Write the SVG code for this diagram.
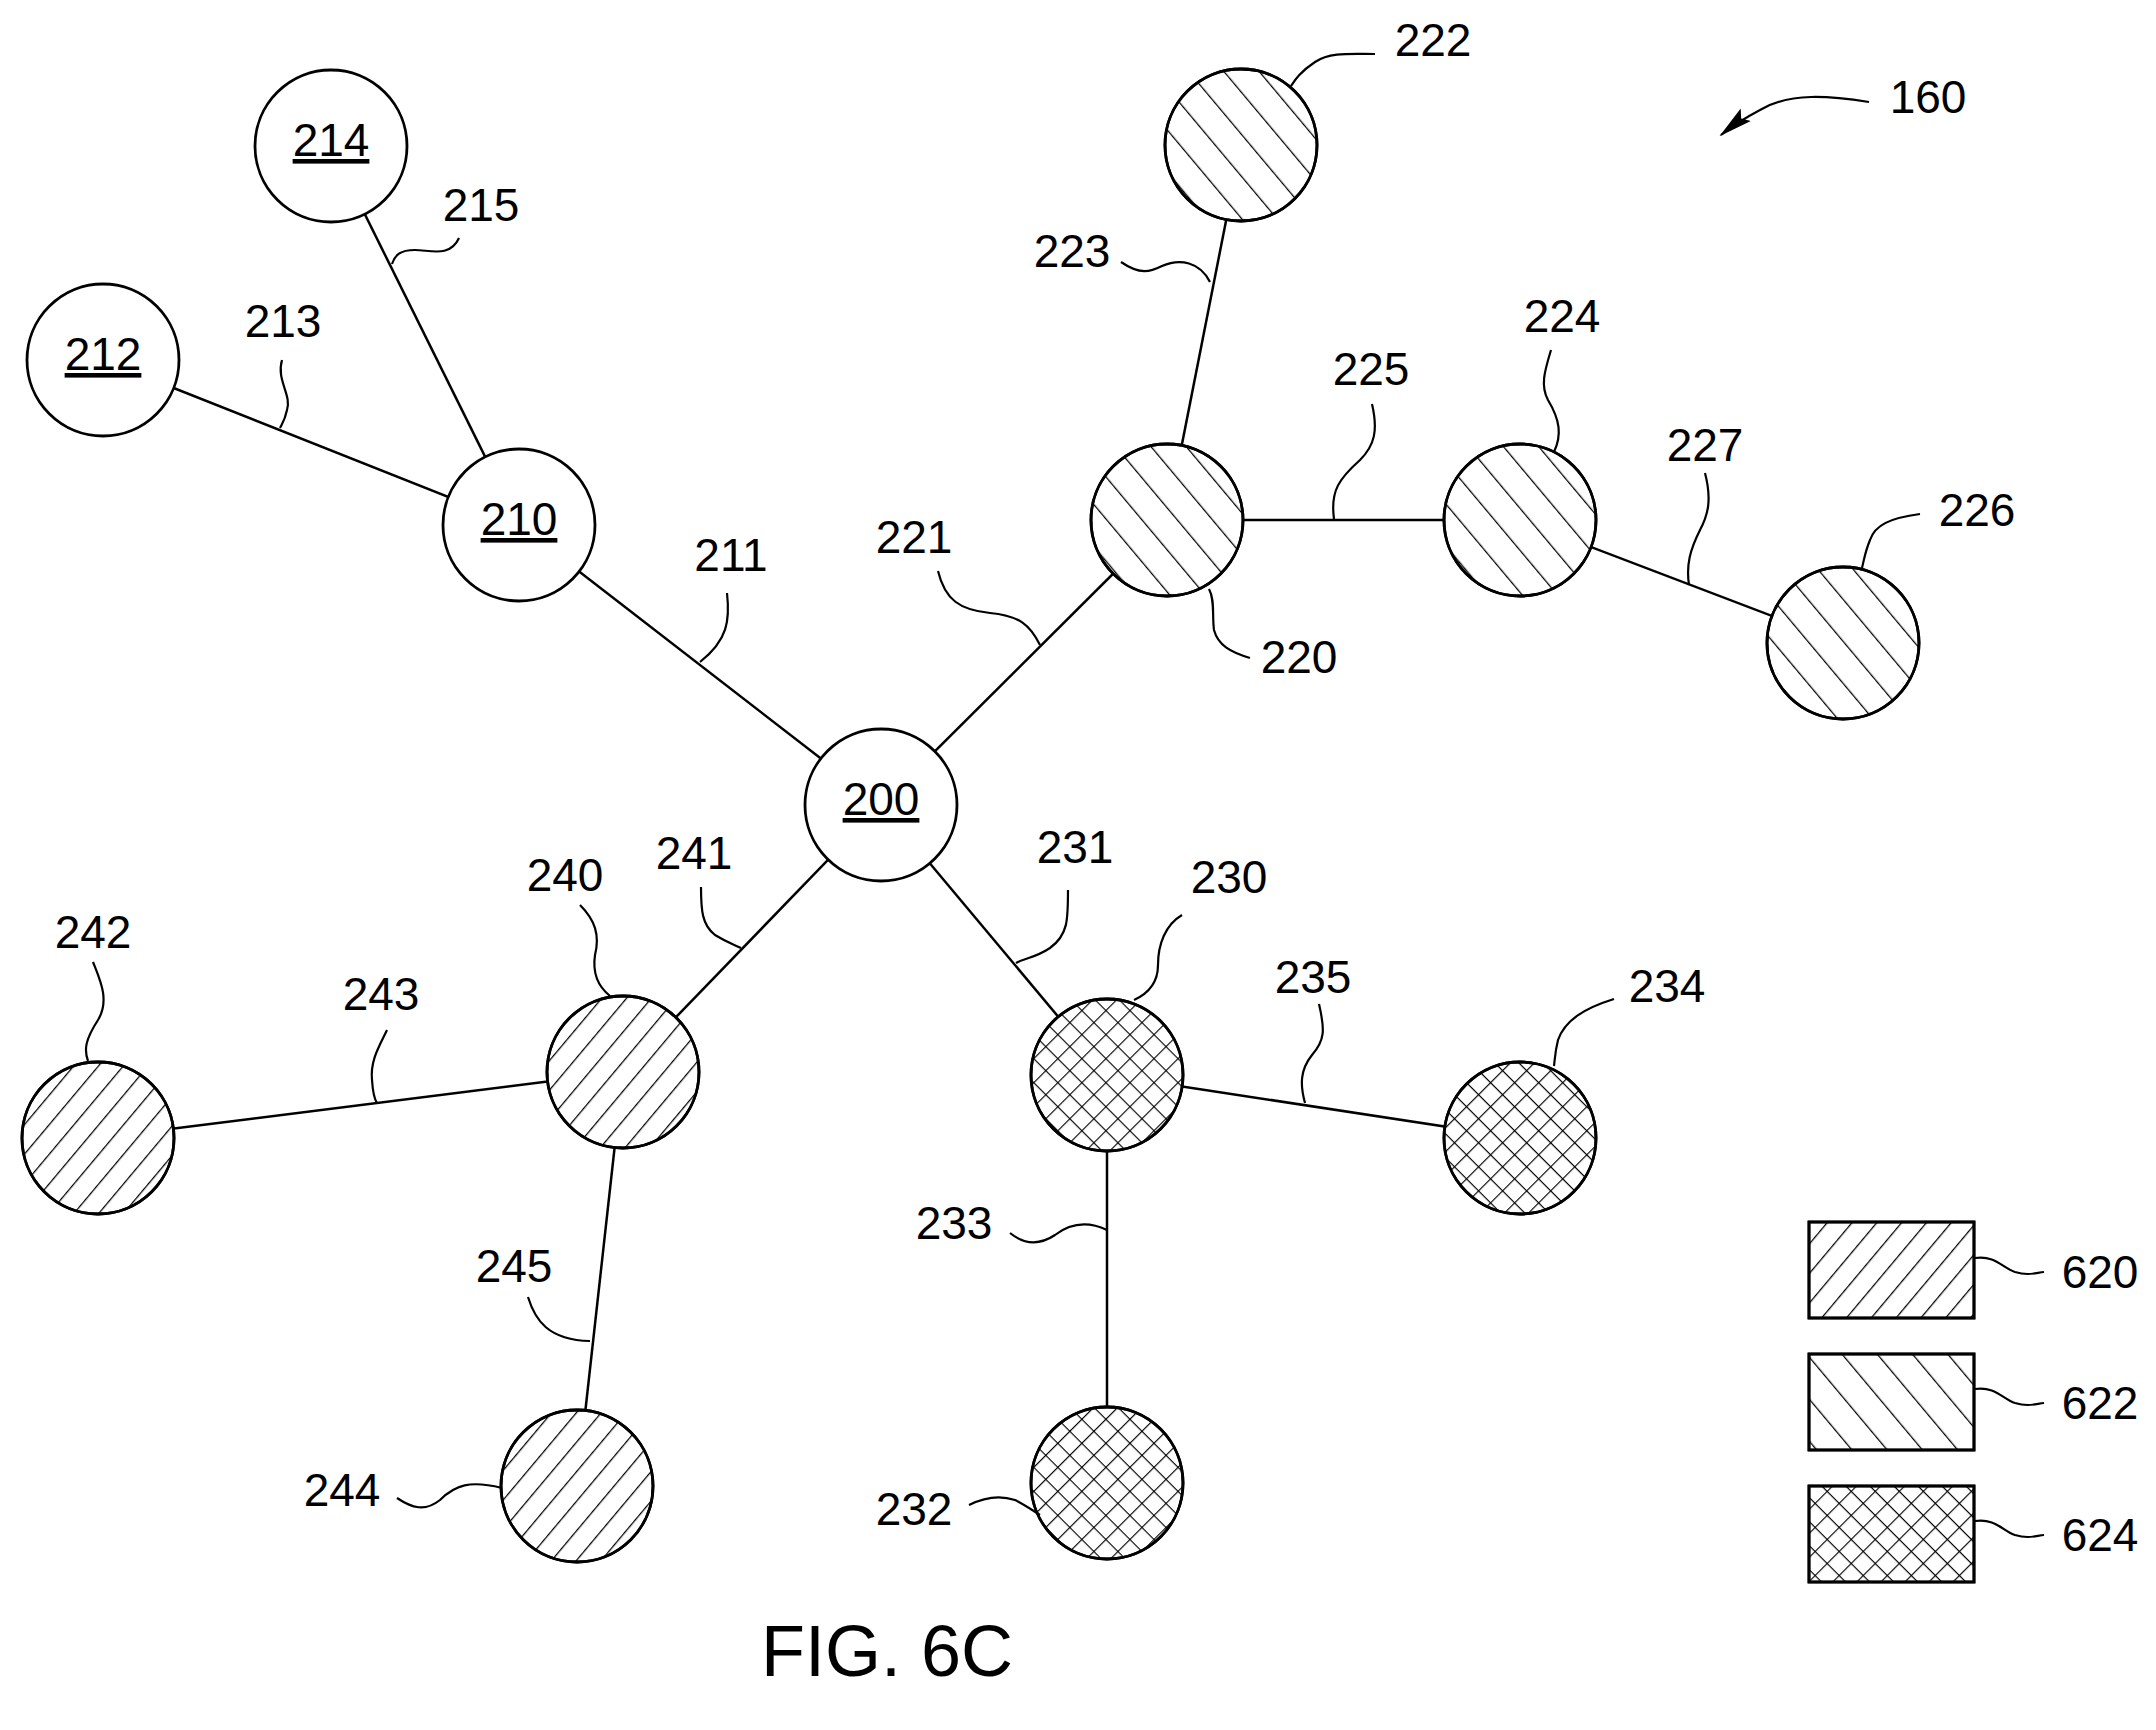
<svg xmlns="http://www.w3.org/2000/svg" width="2156" height="1730" viewBox="0 0 2156 1730">
<style>
text{font-family:"Liberation Sans",Arial,sans-serif;font-size:46px;fill:#000;text-anchor:middle}
.u{text-decoration:underline}
.e{stroke:#000;stroke-width:2.5;fill:none}
.l{stroke:#000;stroke-width:2.2;fill:none}
.n{stroke:#000;stroke-width:2.8;fill:#fff}
.h{stroke:#000;stroke-width:2.8}
</style>
<defs>
<pattern id="p620" width="19" height="19" patternUnits="userSpaceOnUse" patternTransform="rotate(40)"><line x1="0" y1="0" x2="0" y2="19" stroke="#000" stroke-width="2.5"/></pattern>
<pattern id="p622" width="27" height="27" patternUnits="userSpaceOnUse" patternTransform="rotate(-40)"><line x1="0" y1="0" x2="0" y2="27" stroke="#000" stroke-width="2.5"/></pattern>
<pattern id="p624" width="17" height="17" patternUnits="userSpaceOnUse" patternTransform="rotate(45)"><line x1="0" y1="0" x2="0" y2="17" stroke="#000" stroke-width="2.3"/><line x1="0" y1="0" x2="17" y2="0" stroke="#000" stroke-width="2.3"/></pattern>
<marker id="ah" markerWidth="34" markerHeight="20" refX="32" refY="10" orient="auto" markerUnits="userSpaceOnUse" viewBox="0 0 34 20"><path d="M0,2 L34,10 L0,18 L6,10 Z" fill="#000"/></marker>
</defs>
<g id="connectors">
<line class="e" x1="881" y1="805" x2="519" y2="525"/>
<line class="e" x1="519" y1="525" x2="103" y2="360"/>
<line class="e" x1="519" y1="525" x2="331" y2="146"/>
<line class="e" x1="881" y1="805" x2="1167" y2="520"/>
<line class="e" x1="1167" y1="520" x2="1241" y2="145"/>
<line class="e" x1="1167" y1="520" x2="1520" y2="520"/>
<line class="e" x1="1520" y1="520" x2="1843" y2="643"/>
<line class="e" x1="881" y1="805" x2="1107" y2="1075"/>
<line class="e" x1="1107" y1="1075" x2="1107" y2="1483"/>
<line class="e" x1="1107" y1="1075" x2="1520" y2="1138"/>
<line class="e" x1="881" y1="805" x2="623" y2="1072"/>
<line class="e" x1="623" y1="1072" x2="98" y2="1138"/>
<line class="e" x1="623" y1="1072" x2="577" y2="1486"/>
</g>
<g id="n200"><circle class="n" cx="881" cy="805" r="76"/><text class="u" x="881" y="815">200</text></g>
<g id="n210"><circle class="n" cx="519" cy="525" r="76"/><text class="u" x="519" y="535">210</text></g>
<g id="n212"><circle class="n" cx="103" cy="360" r="76"/><text class="u" x="103" y="370">212</text></g>
<g id="n214"><circle class="n" cx="331" cy="146" r="76"/><text class="u" x="331" y="156">214</text></g>
<g id="n220"><circle class="n" cx="1167" cy="520" r="76"/><circle class="h" cx="1167" cy="520" r="76" fill="url(#p622)"/></g>
<g id="n222"><circle class="n" cx="1241" cy="145" r="76"/><circle class="h" cx="1241" cy="145" r="76" fill="url(#p622)"/></g>
<g id="n224"><circle class="n" cx="1520" cy="520" r="76"/><circle class="h" cx="1520" cy="520" r="76" fill="url(#p622)"/></g>
<g id="n226"><circle class="n" cx="1843" cy="643" r="76"/><circle class="h" cx="1843" cy="643" r="76" fill="url(#p622)"/></g>
<g id="n230"><circle class="n" cx="1107" cy="1075" r="76"/><circle class="h" cx="1107" cy="1075" r="76" fill="url(#p624)"/></g>
<g id="n232"><circle class="n" cx="1107" cy="1483" r="76"/><circle class="h" cx="1107" cy="1483" r="76" fill="url(#p624)"/></g>
<g id="n234"><circle class="n" cx="1520" cy="1138" r="76"/><circle class="h" cx="1520" cy="1138" r="76" fill="url(#p624)"/></g>
<g id="n240"><circle class="n" cx="623" cy="1072" r="76"/><circle class="h" cx="623" cy="1072" r="76" fill="url(#p620)"/></g>
<g id="n242"><circle class="n" cx="98" cy="1138" r="76"/><circle class="h" cx="98" cy="1138" r="76" fill="url(#p620)"/></g>
<g id="n244"><circle class="n" cx="577" cy="1486" r="76"/><circle class="h" cx="577" cy="1486" r="76" fill="url(#p620)"/></g>
<g id="legend">
<rect class="n" x="1809" y="1222" width="165" height="96"/><rect class="h" x="1809" y="1222" width="165" height="96" fill="url(#p620)"/>
<rect class="n" x="1809" y="1354" width="165" height="96"/><rect class="h" x="1809" y="1354" width="165" height="96" fill="url(#p622)"/>
<rect class="n" x="1809" y="1486" width="165" height="96"/><rect class="h" x="1809" y="1486" width="165" height="96" fill="url(#p624)"/>
</g>
<g id="leaders">
<path class="l" d="M459,238 C450,258 430,250 415,250 C400,250 395,255 392,264"/>
<path class="l" d="M282,360 C276,380 292,395 287,410 C285,420 282,424 280,428"/>
<path class="l" d="M727,593 C730,620 728,640 700,662"/>
<path class="l" d="M938,571 C945,600 960,610 990,613 C1020,616 1030,625 1040,645"/>
<path class="l" d="M1121,262 C1140,275 1150,272 1162,266 C1180,258 1200,262 1210,282"/>
<path class="l" d="M1375,54 C1350,54 1330,52 1315,62 C1300,72 1295,80 1291,86"/>
<path class="l" d="M1869,102 C1830,96 1790,92 1760,110 C1745,118 1732,126 1721,135" marker-end="url(#ah)"/>
<path class="l" d="M1372,404 C1378,430 1375,445 1360,460 C1340,478 1330,490 1334,519"/>
<path class="l" d="M1551,350 C1545,370 1540,385 1548,400 C1560,420 1562,435 1554,452"/>
<path class="l" d="M1705,473 C1712,500 1708,515 1700,530 C1690,550 1686,565 1689,585"/>
<path class="l" d="M1920,514 C1890,518 1875,525 1870,540 C1865,552 1864,560 1862,568"/>
<path class="l" d="M1250,658 C1230,652 1218,645 1214,630 C1212,615 1215,600 1209,589"/>
<path class="l" d="M701,887 C701,910 702,925 715,935 C728,943 735,945 741,948"/>
<path class="l" d="M580,905 C595,920 600,935 595,955 C592,975 600,988 610,996"/>
<path class="l" d="M1068,890 C1068,920 1068,935 1050,948 C1035,958 1025,958 1016,963"/>
<path class="l" d="M1182,915 C1165,925 1158,945 1158,965 C1158,985 1145,995 1134,1000"/>
<path class="l" d="M93,962 C100,980 110,1000 98,1020 C85,1040 84,1050 88,1061"/>
<path class="l" d="M387,1030 C380,1045 370,1060 372,1080 C373,1095 375,1100 377,1103"/>
<path class="l" d="M1319,1004 C1325,1030 1325,1040 1312,1055 C1300,1070 1300,1085 1305,1103"/>
<path class="l" d="M1614,999 C1585,1008 1565,1020 1558,1040 C1555,1052 1555,1058 1554,1066"/>
<path class="l" d="M528,1297 C535,1320 548,1340 590,1341"/>
<path class="l" d="M1010,1233 C1025,1245 1040,1245 1055,1235 C1072,1222 1090,1222 1107,1230"/>
<path class="l" d="M397,1498 C412,1508 425,1512 440,1500 C455,1485 470,1480 502,1488"/>
<path class="l" d="M969,1505 C985,1497 1000,1495 1015,1500 C1025,1505 1032,1510 1040,1515"/>
<path class="l" d="M1975,1258 C1995,1255 2003,1268 2015,1272 C2028,1276 2035,1273 2044,1272"/>
<path class="l" d="M1975,1389 C1995,1386 2003,1399 2015,1403 C2028,1407 2035,1404 2044,1403"/>
<path class="l" d="M1975,1521 C1995,1518 2003,1531 2015,1535 C2028,1539 2035,1536 2044,1535"/>
</g>
<g id="labels">
<text x="481" y="221">215</text>
<text x="283" y="337">213</text>
<text x="731" y="571">211</text>
<text x="914" y="553">221</text>
<text x="1072" y="267">223</text>
<text x="1433" y="56">222</text>
<text x="1928" y="113">160</text>
<text x="1371" y="385">225</text>
<text x="1562" y="332">224</text>
<text x="1705" y="461">227</text>
<text x="1977" y="526">226</text>
<text x="1299" y="673">220</text>
<text x="694" y="869">241</text>
<text x="565" y="891">240</text>
<text x="1075" y="863">231</text>
<text x="1229" y="893">230</text>
<text x="93" y="948">242</text>
<text x="381" y="1010">243</text>
<text x="1313" y="993">235</text>
<text x="1667" y="1002">234</text>
<text x="514" y="1282">245</text>
<text x="954" y="1239">233</text>
<text x="342" y="1506">244</text>
<text x="914" y="1525">232</text>
<text x="2100" y="1288">620</text>
<text x="2100" y="1419">622</text>
<text x="2100" y="1551">624</text>
<text x="887" y="1676" style="font-size:72px">FIG. 6C</text>
</g>
</svg>
